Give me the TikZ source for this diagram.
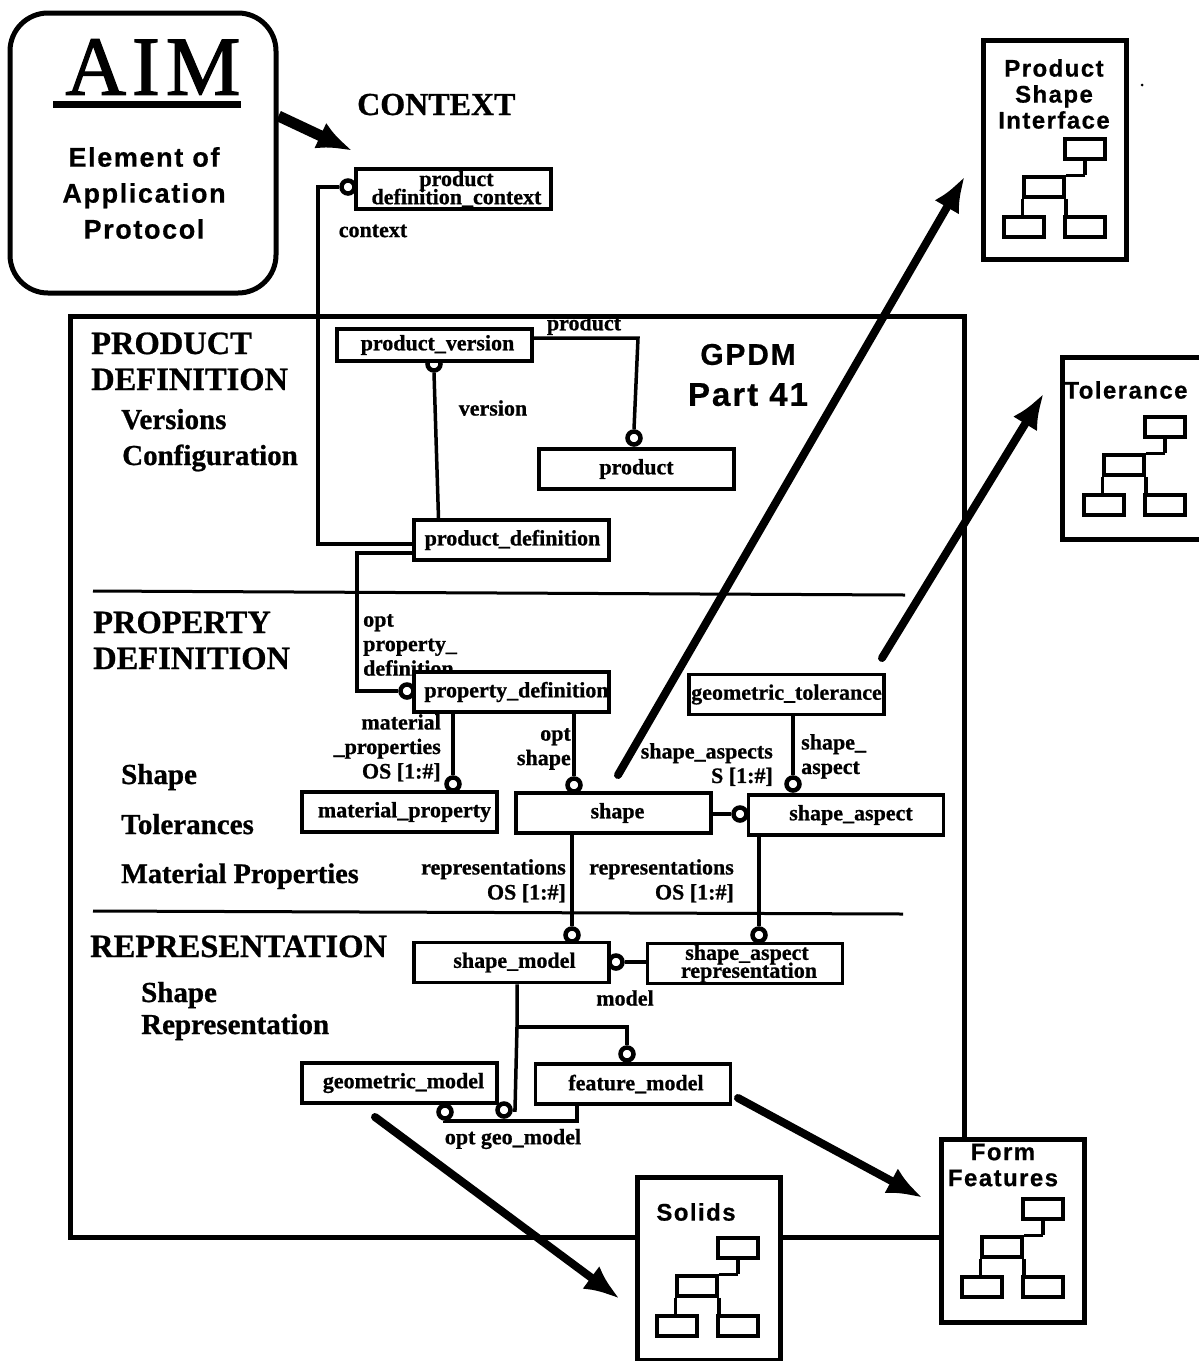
\documentclass[tikz,border=0pt]{standalone}
\usepackage{fontspec}
\usetikzlibrary{arrows.meta,calc}
\setmainfont{Liberation Serif}[BoldFeatures={FakeBold=0.8}]
\newfontfamily\chic[LetterSpace=6]{Liberation Sans}[BoldFeatures={FakeBold=0.6}]
\newfontfamily\aimfont[LetterSpace=7,FakeBold=1.5]{Liberation Serif}
\tikzset{
  x=1pt,y=-1pt,
  entity/.style={draw,line width=3.5pt,fill=white,inner sep=0pt,minimum width=195pt,minimum height=40pt,align=center,font=\fontsize{22}{18}\selectfont\bfseries},
  frameline/.style={draw,line width=5pt},
  conn/.style={draw,line width=3.5pt,line join=miter},
  ringo/.style={circle,draw,line width=4.5pt,fill=white,inner sep=0pt,minimum size=13pt},
  rel/.style={inner sep=0pt,align=right,font=\fontsize{22}{26}\selectfont\bfseries},
  head/.style={inner sep=0pt,anchor=base west,font=\fontsize{32.5}{36}\selectfont\bfseries},
  sub/.style={inner sep=0pt,anchor=base west,font=\fontsize{29}{34}\selectfont\bfseries},
  chictext/.style={inner sep=0pt,align=center,font=\fontsize{24}{26}\selectfont\chic\bfseries},
  bigarrow/.style={draw,line width=8pt,line cap=round,-{Latex[length=36pt,width=28pt]}},
  minibox/.style={draw,line width=3.5pt,fill=white,inner sep=0pt,minimum width=40pt,minimum height=20pt},
  panel/.style={draw,line width=5pt,fill=white},
}
% a line of an entity label: #1 = shift to the right, #2 = text
\newcommand{\tx}[2][0]{\raisebox{-2pt}{\kern\dimexpr 2\dimexpr #1pt\relax\relax #2}}
\newcommand{\minitree}[3]{%
  \node[minibox] (#3t) at (#1+61,#2+10) {};
  \node[minibox] (#3m) at (#1+20,#2+48) {};
  \node[minibox] (#3l) at (#1,#2+88) {};
  \node[minibox] (#3r) at (#1+61,#2+88) {};
  \draw[conn] (#3t.south) -- (#3t.south |- #3m.north);
  \draw[conn] (#3t.south |- #3m.north) -- (#3m.north east);
  \draw[conn] (#3m.south west) -- (#3m.south west |- #3l.north);
  \draw[conn] (#3m.south east) -- (#3m.south east |- #3r.north);
}
\begin{document}
\begin{tikzpicture}
\useasboundingbox (0,0) rectangle (1199,1361);
\fill[white] (0,0) rectangle (1199,1361);

% main frame and separators
\node[frameline,inner sep=0pt,minimum width=894pt,minimum height=921pt] (frame) at (517,776.5) {};
\coordinate (s1a) at (93,591); \coordinate (s1b) at (905,595);
\coordinate (s2a) at (93,911); \coordinate (s2b) at (903,914);
\draw[line width=3pt] (s1a) -- (s1b);
\draw[line width=3pt] (s2a) -- (s2b);
\coordinate (fb) at (940,1237);
\draw[frameline] (frame.south east) -- (fb);

% AIM box
\node[draw,line width=5pt,rounded corners=38pt,fill=white,minimum width=266pt,minimum height=280pt,inner sep=0pt] (aim) at (143,153) {};
\node[inner sep=0pt,font=\fontsize{84}{84}\selectfont\aimfont] (aimt) at (153,67) {AIM};
\coordinate (ula) at (53,104); \coordinate (ulb) at (241,104);
\draw[line width=7pt] (ula) -- (ulb);
\node[chictext,font=\fontsize{27}{36}\selectfont\chic\bfseries] (aims) at (144,193) {Element of\\Application\\Protocol};

% headings
\node[head,font=\fontsize{32}{36}\selectfont\bfseries] (hctx) at (357,115) {CONTEXT};
\node[head] (hpd1) at (91,354) {PRODUCT};
\node[head] (hpd2) at (91,390) {DEFINITION};
\node[sub] (hv) at (121,429) {Versions};
\node[sub] (hc) at (122,465) {Configuration};
\node[head] (hp1) at (93,633) {PROPERTY};
\node[head] (hp2) at (93,669) {DEFINITION};
\node[sub] (hs) at (121,784) {Shape};
\node[sub] (ht) at (121,834) {Tolerances};
\node[sub,font=\fontsize{28.3}{34}\selectfont\bfseries] (hm) at (121,883) {Material Properties};
\node[head] (hr) at (90,957) {REPRESENTATION};
\node[sub] (hsr1) at (141,1002) {Shape};
\node[sub] (hsr2) at (141,1034) {Representation};
\node[chictext,font=\fontsize{30}{41}\selectfont\chic\bfseries] (gpdm) at (748,375) {GPDM\\{\fontsize{33}{41}\selectfont Part 41}};

% relationship labels
\node[rel] (lctx) at (373,231) {context};
\node[rel] (lprod) at (584,325) {product};
\node[rel] (lver) at (493,408) {version};
\node[rel,align=left,anchor=north west,font=\fontsize{22}{24.5}\selectfont\bfseries] (lopt) at (363,614) {opt\\property\_\\definition};
\node[rel,anchor=north east,font=\fontsize{22}{24.5}\selectfont\bfseries] (lmat) at (441,714) {material\\\_properties\\OS [1:\#]};
\node[rel,anchor=north east,font=\fontsize{22}{24.5}\selectfont\bfseries] (lshp) at (571,728) {opt\\shape};
\node[rel,anchor=north east,font=\fontsize{22}{24.5}\selectfont\bfseries] (lasp) at (773,743) {shape\_aspects\\S [1:\#]};
\node[rel,align=left,anchor=north west,font=\fontsize{22}{24.5}\selectfont\bfseries] (lsa) at (801,734) {shape\_\\aspect};
\node[rel,anchor=north east,font=\fontsize{22}{25}\selectfont\bfseries] (lrep1) at (566,859) {representations\\OS [1:\#]};
\node[rel,anchor=north east,font=\fontsize{22}{25}\selectfont\bfseries] (lrep2) at (734,859) {representations\\OS [1:\#]};
\node[rel] (lmod) at (625,998) {model};
\node[rel] (lgeo) at (513,1139) {opt geo\_model};

% rings
\node[ringo] (c1) at (348,187) {};
\node[ringo] (c2) at (634,438) {};
\node[ringo] (c3) at (434,364) {};
\node[ringo] (c4) at (407,691) {};
\node[ringo] (c5) at (453,784) {};
\node[ringo] (c6) at (574,785) {};
\node[ringo] (c7) at (793,784) {};
\node[ringo] (c8) at (740,814) {};
\node[ringo] (c9) at (572,935) {};
\node[ringo] (c10) at (759,935) {};
\node[ringo] (c11) at (616,962) {};
\node[ringo] (c12) at (627,1054) {};
\node[ringo] (c13) at (504,1110) {};
\node[ringo] (c14) at (445,1112) {};

% entities
\node[entity] (pdc) at (453.5,189) {\tx[3]{product}\\[-3pt]\tx[3]{definition\_context}};
\node[entity,minimum height=32pt] (pv) at (434.5,345) {\tx[3]{product\_version}};
\node[entity] (pr) at (636.5,469) {\tx{product}};
\node[entity] (pd) at (511.5,540) {\tx[1]{product\_definition}};
\node[entity] (pdef) at (511.5,692) {\tx[5]{property\_definition}};
\node[entity] (gt) at (786.5,694.5) {\tx{geometric\_tolerance}};
\node[entity] (mp) at (399.5,812) {\tx[5]{material\_property}};
\node[entity] (sh) at (613.5,813) {\tx[4]{shape}};
\node[entity,minimum height=40pt] (sa) at (846,815) {\tx[5]{shape\_aspect}};
\node[entity] (sm) at (511.5,962.5) {\tx[3]{shape\_model}};
\node[entity] (sar) at (745,963.5) {\tx[2]{\raisebox{-1.5pt}{shape\_aspect}}\\[-3pt]\tx[4]{\raisebox{-1.5pt}{representation}}};
\node[entity] (gm) at (399.5,1083) {\tx[4]{geometric\_model}};
\node[entity] (fm) at (633,1084) {\tx[3]{feature\_model}};

% connectors
\coordinate (b1) at (318,187);
\draw[conn] (c1.west) -- (b1) |- ([yshift=-4pt]pd.west);
\coordinate (b2) at (638,338);
\draw[conn] ([yshift=7pt]pv.east) -- (b2) -- (c2.north);
\draw[conn] (c3.south) -- ([xshift=-73pt]pd.north);
\coordinate (b3) at (357,553);
\draw[conn] ([yshift=-13pt]pd.west) -- (b3) |- (c4.west);
\draw[conn] (c5.north) -- (c5.north |- pdef.south);
\draw[conn] (c6.north) -- (c6.north |- pdef.south);
\draw[conn] (c7.north) -- (c7.north |- gt.south);
\draw[conn] (sh.east |- c8) -- (c8.west);
\draw[conn] (c9.north) -- (c9.north |- sh.south);
\draw[conn] (c10.north) -- (c10.north |- sa.south);
\draw[conn] (c11.east) -- (c11.east -| sar.west);
\coordinate (b4) at (517,1027);
\coordinate (b5) at (515,1110);
\draw[conn] (sm.south -| b4) -- (b4) -- (b5) -- (c13.east);
\draw[conn] (b4) -| (c12.north);
\coordinate (b6) at (577,1121);
\draw[conn] (c14.south) |- (b6) -- (b6 |- fm.south);

% panels
\node[panel,minimum width=143pt,minimum height=219pt,inner sep=0pt] (p1) at (1055,150) {};
\node[chictext] (p1t) at (1054,94) {Product\\Shape\\Interface};
\minitree{1024}{139}{pa}
\node[panel,minimum width=139pt,minimum height=182pt,inner sep=0pt] (p2) at (1132,448) {};
\node[chictext] (p2t) at (1126,390) {Tolerance};
\minitree{1104}{417}{pb}
\node[panel,minimum width=143pt,minimum height=183pt,inner sep=0pt] (p3) at (708.5,1268.5) {};
\node[chictext] (p3t) at (696,1212) {Solids};
\minitree{677}{1238}{pc}
\node[panel,minimum width=143pt,minimum height=183pt,inner sep=0pt] (p4) at (1012.5,1230.5) {};
\node[chictext] (p4t) at (1003,1165) {Form\\Features};
\minitree{982}{1199}{pd2}

% big arrows
\coordinate (e1) at (353,151);
\coordinate (a2) at (618,775); \coordinate (e2) at (965,176);
\coordinate (a3) at (882,658); \coordinate (e3) at (1044,393);
\coordinate (a4) at (375,1117); \coordinate (e4) at (620,1299);
\coordinate (a5) at (738,1098); \coordinate (e5) at (923,1198);
\draw[bigarrow,line width=11pt,line cap=butt] (aim.east |- 0,116) -- (e1);
\draw[bigarrow] (a2) -- (e2);
\draw[bigarrow] (a3) -- (e3);
\draw[bigarrow] (a4) -- (e4);
\draw[bigarrow] (a5) -- (e5);
\coordinate (dot) at (1142,85);
\fill (dot) circle (1.5pt);
\end{tikzpicture}
\end{document}
